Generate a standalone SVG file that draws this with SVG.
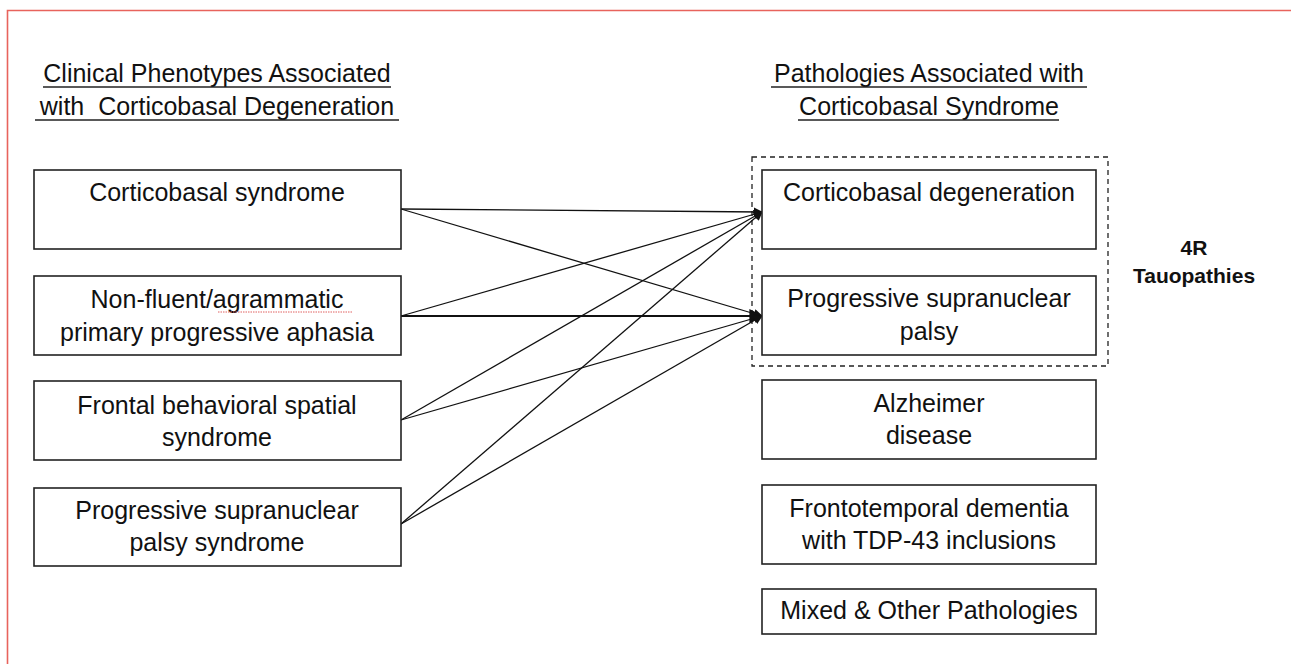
<svg xmlns="http://www.w3.org/2000/svg" width="1291" height="664" viewBox="0 0 1291 664">
<style>
  .t { font-family: "Liberation Sans", Arial, sans-serif; font-size: 25px; fill: #111; text-anchor: middle; }
  .b { font-family: "Liberation Sans", Arial, sans-serif; font-size: 21px; font-weight: bold; fill: #111; text-anchor: middle; }
  .box { fill: #fff; stroke: #222; stroke-width: 1.6; }
  .ul { stroke: #222; stroke-width: 1.4; }
  .c { stroke: #111; stroke-width: 1.3; fill: none; marker-end: url(#ah); }
</style>
<defs>
  <marker id="ah" viewBox="0 0 10 10" refX="9" refY="5" markerWidth="7" markerHeight="7" orient="auto" markerUnits="strokeWidth">
    <path d="M0,0 L10,5 L0,10 z" fill="#111"/>
  </marker>
</defs>
<rect width="1291" height="664" fill="#fff"/>
<path d="M7.5,700 V10.5 H1300" fill="none" stroke="#e8635c" stroke-width="1.6"/>

<g id="title-left">
  <text class="t" x="217" y="82">Clinical Phenotypes Associated</text>
  <line class="ul" x1="43" y1="87" x2="391" y2="87"/>
  <text class="t" x="217" y="115" xml:space="preserve">with  Corticobasal Degeneration</text>
  <line class="ul" x1="35" y1="120" x2="399" y2="120"/>
</g>
<g id="title-right">
  <text class="t" x="929" y="82">Pathologies Associated with</text>
  <line class="ul" x1="771" y1="87" x2="1087" y2="87"/>
  <text class="t" x="929" y="115">Corticobasal Syndrome</text>
  <line class="ul" x1="798" y1="120" x2="1059" y2="120"/>
</g>

<g id="tauopathy-group">
  <rect x="752" y="157" width="356" height="209" fill="none" stroke="#222" stroke-width="1.3" stroke-dasharray="5,4"/>
  <text class="b" x="1194" y="255">4R</text>
  <text class="b" x="1194" y="283">Tauopathies</text>
</g>

<g id="connectors">
  <line class="c" x1="401" y1="209" x2="762" y2="212"/>
  <line class="c" x1="401" y1="209" x2="762" y2="316"/>
  <line class="c" x1="401" y1="316" x2="762" y2="212"/>
  <line class="c" x1="401" y1="316" x2="762" y2="316" style="stroke-width:2"/>
  <line class="c" x1="401" y1="420" x2="762" y2="212"/>
  <line class="c" x1="401" y1="420" x2="762" y2="316"/>
  <line class="c" x1="401" y1="524" x2="762" y2="212"/>
  <line class="c" x1="401" y1="524" x2="762" y2="316"/>
</g>

<g id="cbs">
  <rect class="box" x="34" y="170" width="367" height="79"/>
  <text class="t" x="217" y="201">Corticobasal syndrome</text>
</g>
<g id="nfppa">
  <rect class="box" x="34" y="276" width="367" height="79"/>
  <text class="t" x="217" y="308">Non-fluent/agrammatic</text>
  <text class="t" x="217" y="341">primary progressive aphasia</text>
  <line x1="218" y1="312" x2="352" y2="312" stroke="#e06060" stroke-width="1" stroke-dasharray="1.5,1"/>
</g>
<g id="fbs">
  <rect class="box" x="34" y="381" width="367" height="79"/>
  <text class="t" x="217" y="414">Frontal behavioral spatial</text>
  <text class="t" x="217" y="446">syndrome</text>
</g>
<g id="psps">
  <rect class="box" x="34" y="488" width="367" height="78"/>
  <text class="t" x="217" y="519">Progressive supranuclear</text>
  <text class="t" x="217" y="551">palsy syndrome</text>
</g>

<g id="cbd">
  <rect class="box" x="762" y="170" width="334" height="79"/>
  <text class="t" x="929" y="201">Corticobasal degeneration</text>
</g>
<g id="psp">
  <rect class="box" x="762" y="276" width="334" height="79"/>
  <text class="t" x="929" y="307">Progressive supranuclear</text>
  <text class="t" x="929" y="340">palsy</text>
</g>
<g id="ad">
  <rect class="box" x="762" y="380" width="334" height="79"/>
  <text class="t" x="929" y="412">Alzheimer</text>
  <text class="t" x="929" y="444">disease</text>
</g>
<g id="ftd">
  <rect class="box" x="762" y="485" width="334" height="79"/>
  <text class="t" x="929" y="517">Frontotemporal dementia</text>
  <text class="t" x="929" y="549">with TDP-43 inclusions</text>
</g>
<g id="mixed">
  <rect class="box" x="762" y="589" width="334" height="45"/>
  <text class="t" x="929" y="619">Mixed &amp; Other Pathologies</text>
</g>
</svg>
